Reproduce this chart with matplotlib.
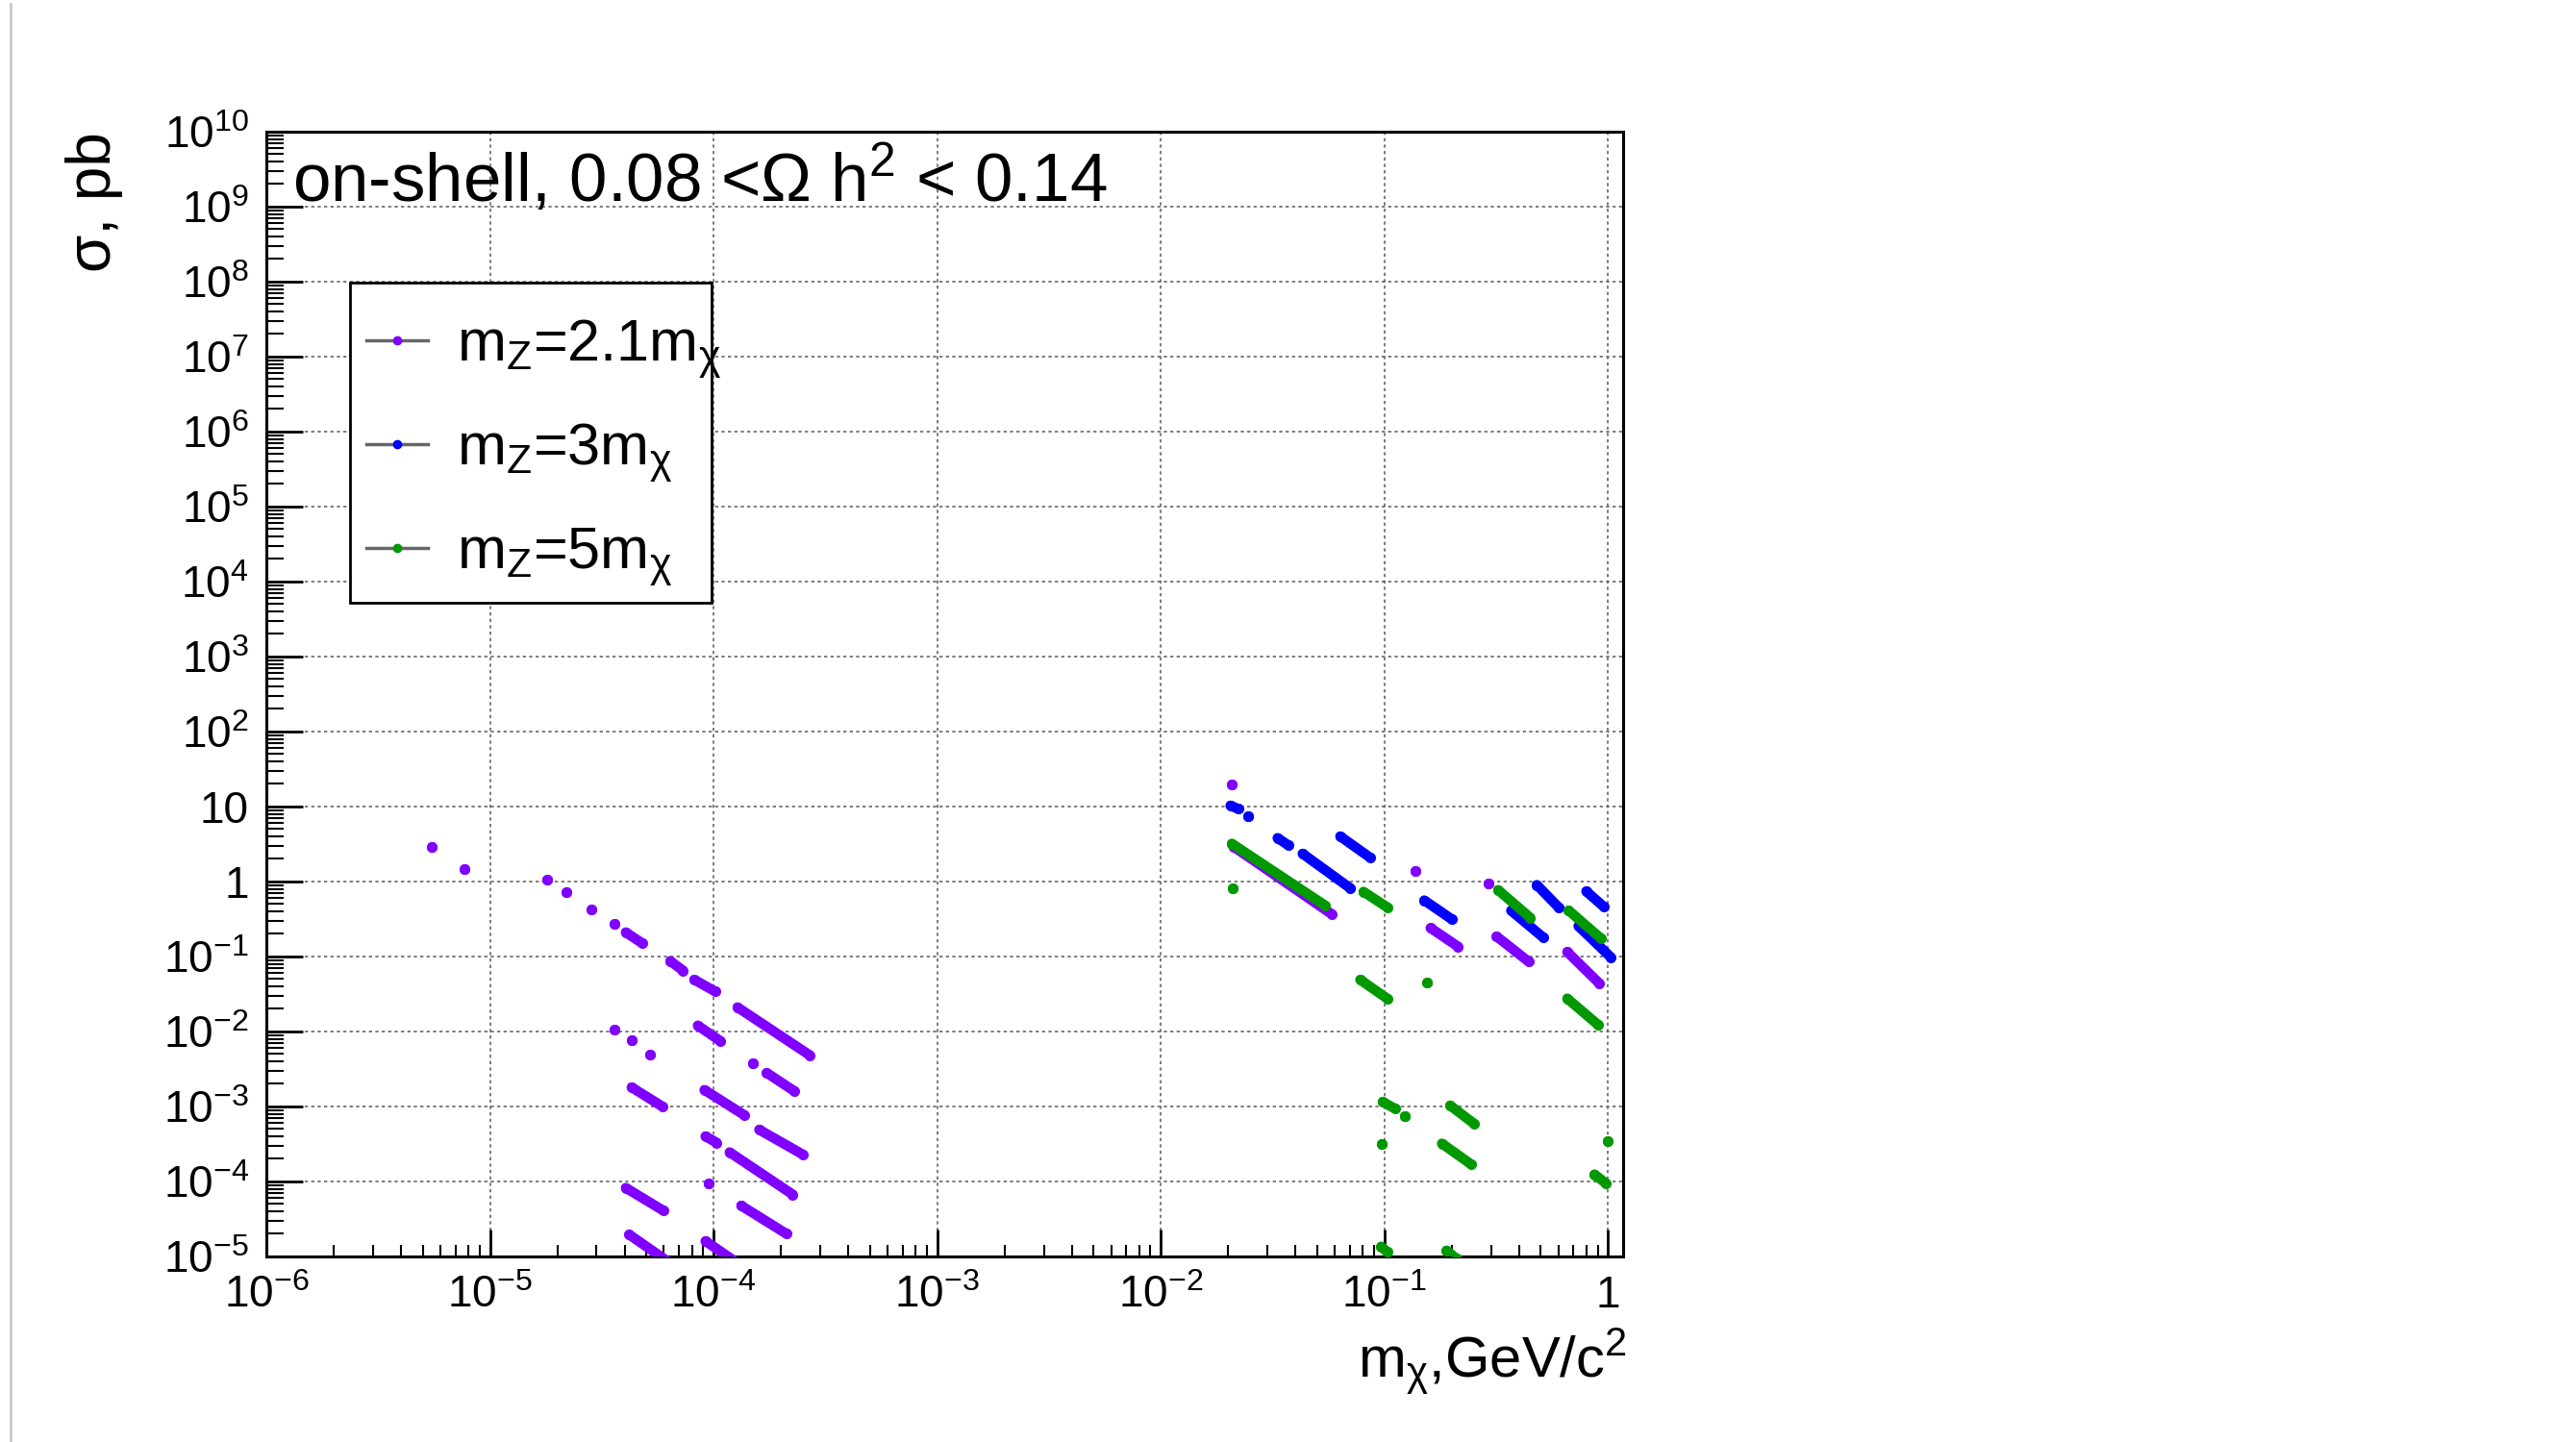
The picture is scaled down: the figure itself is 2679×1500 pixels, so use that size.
import matplotlib
matplotlib.use('Agg')
import matplotlib.pyplot as plt
from matplotlib.lines import Line2D
from matplotlib.patches import Rectangle
from matplotlib.ticker import FixedLocator, FixedFormatter, LogLocator, NullFormatter

plt.rcParams['font.family'] = ['Liberation Sans', 'DejaVu Sans']
plt.rcParams['mathtext.fontset'] = 'custom'
plt.rcParams['mathtext.rm'] = 'Liberation Sans'
plt.rcParams['mathtext.it'] = 'Liberation Sans'
plt.rcParams['mathtext.sf'] = 'Liberation Sans'

# runs of points: (m_start, sigma_start, m_end, sigma_end)
# a lone point has start == end
purple_runs = [
    (5.5e-6, 2.9, 5.5e-6, 2.9),
    (7.7e-6, 1.45, 7.7e-6, 1.45),
    (1.8e-5, 1.05, 1.8e-5, 1.05),
    (2.2e-5, 0.72, 2.2e-5, 0.72),
    (2.85e-5, 0.42, 2.85e-5, 0.42),
    (3.6e-5, 0.27, 3.6e-5, 0.27),
    (4.05e-5, 0.21, 4.8e-5, 0.15),
    (6.4e-5, 0.087, 7.3e-5, 0.065),
    (8.2e-5, 0.049, 1.02e-4, 0.034),
    (1.28e-4, 0.021, 2.7e-4, 0.0048),
    (3.6e-5, 0.0106, 3.6e-5, 0.0106),
    (4.3e-5, 0.0077, 4.3e-5, 0.0077),
    (5.2e-5, 0.0049, 5.2e-5, 0.0049),
    (8.5e-5, 0.012, 1.07e-4, 0.0075),
    (1.5e-4, 0.0038, 1.5e-4, 0.0038),
    (1.73e-4, 0.0028, 2.3e-4, 0.0016),
    (4.3e-5, 0.0018, 5.9e-5, 0.001),
    (9.1e-5, 0.00166, 1.37e-4, 7.7e-4),
    (1.6e-4, 4.9e-4, 2.5e-4, 2.3e-4),
    (9.2e-5, 4.0e-4, 1.03e-4, 3.3e-4),
    (1.18e-4, 2.45e-4, 2.26e-4, 6.7e-5),
    (9.5e-5, 9.5e-5, 9.5e-5, 9.5e-5),
    (4.05e-5, 8.2e-5, 5.95e-5, 4.1e-5),
    (1.33e-4, 4.75e-5, 2.12e-4, 2.0e-5),
    (4.2e-5, 1.95e-5, 6.2e-5, 8.7e-6),
    (9.2e-5, 1.6e-5, 1.24e-4, 8.7e-6),
    (0.0208, 19.5, 0.0208, 19.5),
    (0.0212, 2.9, 0.058, 0.37),
    (0.138, 1.38, 0.138, 1.38),
    (0.161, 0.24, 0.214, 0.135),
    (0.292, 0.95, 0.292, 0.95),
    (0.318, 0.185, 0.443, 0.085),
    (0.658, 0.115, 0.914, 0.044),
]

blue_runs = [
    (0.0205, 10.3, 0.0222, 9.3),
    (0.0245, 7.5, 0.0245, 7.5),
    (0.0333, 3.8, 0.0372, 3.05),
    (0.0431, 2.35, 0.0706, 0.81),
    (0.0635, 4.0, 0.0861, 2.1),
    (0.151, 0.56, 0.2, 0.315),
    (0.369, 0.41, 0.513, 0.18),
    (0.481, 0.9, 0.605, 0.445),
    (0.738, 0.254, 1.03, 0.098),
    (0.80, 0.74, 0.96, 0.46),
]

green_runs = [
    (0.0208, 3.2, 0.0543, 0.48),
    (0.0209, 0.81, 0.0209, 0.81),
    (0.0807, 0.73, 0.103, 0.454),
    (0.078, 0.049, 0.103, 0.0275),
    (0.155, 0.045, 0.155, 0.045),
    (0.323, 0.77, 0.449, 0.33),
    (0.668, 0.41, 0.929, 0.175),
    (0.658, 0.0275, 0.9, 0.0124),
    (0.0984, 1.15e-3, 0.112, 9.3e-4),
    (0.124, 7.5e-4, 0.124, 7.5e-4),
    (0.0977, 3.2e-4, 0.0977, 3.2e-4),
    (0.197, 1.03e-3, 0.252, 5.9e-4),
    (0.181, 3.2e-4, 0.244, 1.7e-4),
    (1.0, 3.5e-4, 1.0, 3.5e-4),
    (0.871, 1.24e-4, 0.977, 9.5e-5),
    (0.0968, 1.35e-5, 0.103, 1.15e-5),
    (0.19, 1.2e-5, 0.21, 9.3e-6),
]

series_runs = [purple_runs, blue_runs, green_runs]
series_labels = [r'm$_Z$=2.1m$_\chi$', r'm$_Z$=3m$_\chi$', r'm$_Z$=5m$_\chi$']
series_colors = ['#8000ff', '#0000ff', '#009900']

x_ticks = [1e-6, 1e-5, 1e-4, 1e-3, 1e-2, 1e-1, 1]
x_ticklabels = [r'$10^{-6}$', r'$10^{-5}$', r'$10^{-4}$', r'$10^{-3}$', r'$10^{-2}$', r'$10^{-1}$', '1']
y_ticks = [1e-5, 1e-4, 1e-3, 1e-2, 1e-1, 1, 10, 1e2, 1e3, 1e4, 1e5, 1e6, 1e7, 1e8, 1e9, 1e10]
y_ticklabels = [r'$10^{-5}$', r'$10^{-4}$', r'$10^{-3}$', r'$10^{-2}$', r'$10^{-1}$', '1', '10',
                r'$10^{2}$', r'$10^{3}$', r'$10^{4}$', r'$10^{5}$', r'$10^{6}$', r'$10^{7}$',
                r'$10^{8}$', r'$10^{9}$', r'$10^{10}$']

fig = plt.figure(figsize=(26.79, 15), dpi=100)
ax = fig.add_axes([0.1034, 0.1287, 0.5267, 0.78])
ax.set_xscale('log')
ax.set_yscale('log')
ax.set_xlim(1e-6, 1.17)
ax.set_ylim(1e-5, 1e10)

for runs, color in zip(series_runs, series_colors):
    for x0, y0, x1, y1 in runs:
        ax.plot([x0, x1], [y0, y1], color=color, lw=7.5, solid_capstyle='round',
                marker='o', ms=8, mew=0, zorder=3)

ax.xaxis.set_major_locator(FixedLocator(x_ticks))
ax.xaxis.set_major_formatter(FixedFormatter(x_ticklabels))
ax.yaxis.set_major_locator(FixedLocator(y_ticks))
ax.yaxis.set_major_formatter(FixedFormatter(y_ticklabels))
ax.xaxis.set_minor_locator(LogLocator(base=10, subs=range(2, 10), numticks=100))
ax.yaxis.set_minor_locator(LogLocator(base=10, subs=range(2, 10), numticks=100))
ax.xaxis.set_minor_formatter(NullFormatter())
ax.yaxis.set_minor_formatter(NullFormatter())

ax.tick_params(axis='x', which='major', direction='in', length=20, width=2, pad=14, labelsize=33)
ax.tick_params(axis='x', which='minor', direction='in', length=9, width=1.5)
ax.tick_params(axis='y', which='major', direction='in', length=27, width=2, pad=13, labelsize=33)
ax.tick_params(axis='y', which='minor', direction='in', length=13, width=1.5)
ax.tick_params(top=False, right=False, which='both')

ax.grid(True, which='major', color='#666666', linestyle=(0, (2, 2)), lw=1.2)
for s in ax.spines.values():
    s.set_linewidth(2.2)

ax.text(0.019, 0.957, r'on-shell, 0.08 <$\Omega$ h$^2$ < 0.14', transform=ax.transAxes,
        fontsize=51, ha='left', va='center')

# legend box drawn on its own so the text can run past it like in the original
ax.add_patch(Rectangle((0.0617, 0.581), 0.2666, 0.285, transform=ax.transAxes,
                       facecolor='white', edgecolor='black', lw=2, zorder=4))
handles = [Line2D([], [], color='#666666', lw=2.5, marker='o', ms=6, mfc=c, mec=c)
           for c in series_colors]
leg = ax.legend(handles, series_labels, loc='upper left', bbox_to_anchor=(0.0475, 0.866),
                fontsize=44, frameon=False, borderpad=0.6, labelspacing=0.7,
                handlelength=1.05, handletextpad=0.5, borderaxespad=0)
leg.set_zorder(5)

fig.text(98 / 2679, 1 - 137 / 1500, 'σ, pb', rotation=90, ha='center', va='top', fontsize=46)
fig.text(1692 / 2679, 1 - 1433 / 1500, r'm$_\chi$,GeV/c$^2$', ha='right', va='baseline', fontsize=43)

fig.add_artist(Line2D([11 / 2679, 11 / 2679], [0, 1 - 4 / 1500], transform=fig.transFigure,
                      color='#c8c8c8', lw=2))

fig.savefig('out.png', dpi=100)
